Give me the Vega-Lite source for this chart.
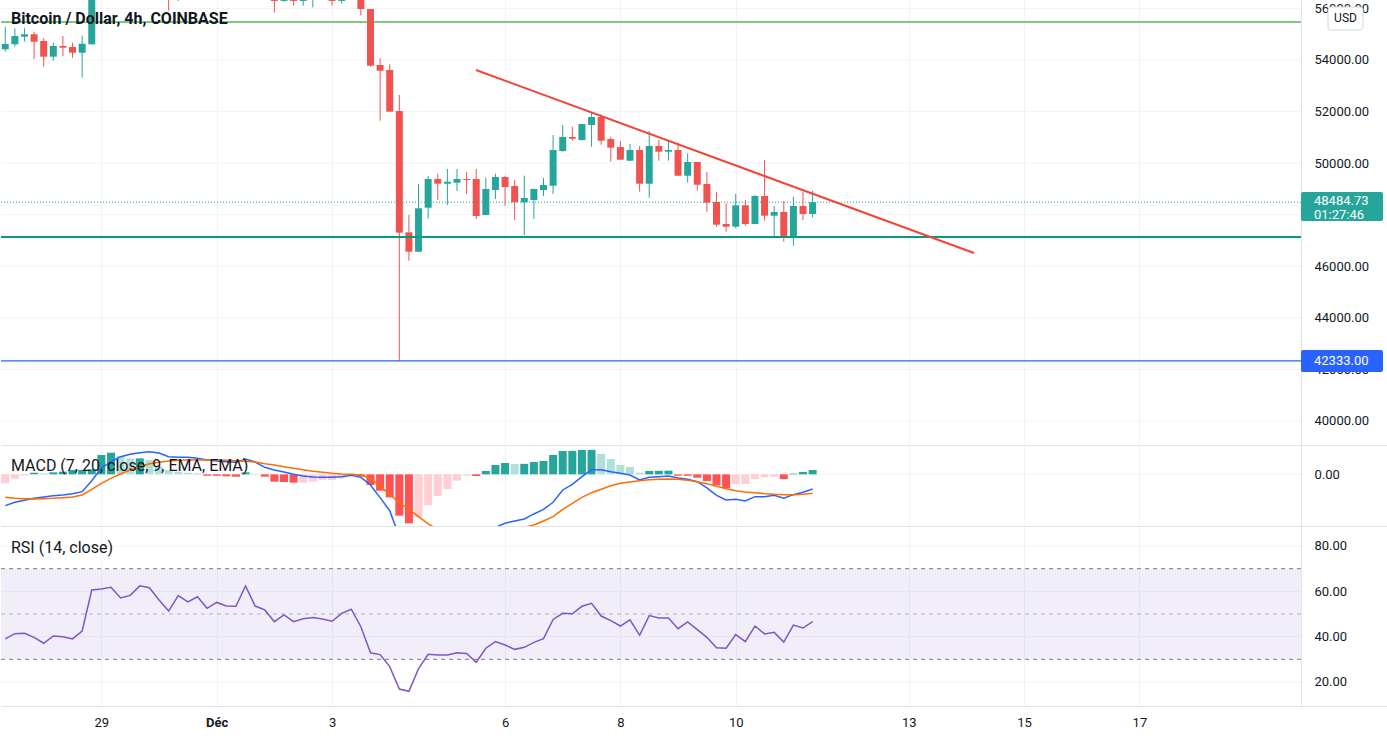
{
"$schema": "https://vega.github.io/schema/vega-lite/v6.json",
"padding": 0,
"background": "white",
"spacing": 0,
"bounds": "flush",
"config": {"view": {"stroke": null}, "font": "Roboto", "text": {"font": "Roboto"}, "axis": {"labelFont": "Roboto"}},
"datasets": {
"k": [
{"t":"2021-11-27T08:00:00Z","o":54414,"h":55291,"l":54321,"c":54620,"hist":-180,"macd":-627,"sig":-460,"rsi":39.0},
{"t":"2021-11-27T12:00:00Z","o":54608,"h":55229,"l":54515,"c":54930,"hist":-87,"macd":-560,"sig":-480,"rsi":41.3},
{"t":"2021-11-27T16:00:00Z","o":54903,"h":55229,"l":54709,"c":54996,"hist":-27,"macd":-520,"sig":-487,"rsi":41.5},
{"t":"2021-11-27T20:00:00Z","o":54996,"h":55097,"l":54038,"c":54709,"hist":33,"macd":-480,"sig":-493,"rsi":39.7},
{"t":"2021-11-28T00:00:00Z","o":54736,"h":54841,"l":53739,"c":54127,"hist":20,"macd":-453,"sig":-487,"rsi":37.1},
{"t":"2021-11-28T04:00:00Z","o":54127,"h":54670,"l":53972,"c":54542,"hist":40,"macd":-427,"sig":-480,"rsi":40.3},
{"t":"2021-11-28T08:00:00Z","o":54542,"h":54930,"l":54154,"c":54476,"hist":53,"macd":-413,"sig":-467,"rsi":40.0},
{"t":"2021-11-28T12:00:00Z","o":54503,"h":54670,"l":54088,"c":54282,"hist":87,"macd":-387,"sig":-453,"rsi":39.0},
{"t":"2021-11-28T16:00:00Z","o":54282,"h":54942,"l":53313,"c":54631,"hist":90,"macd":-347,"sig":-413,"rsi":42.5},
{"t":"2021-11-28T20:00:00Z","o":54608,"h":57500,"l":54600,"c":57300,"hist":100,"macd":-127,"sig":-300,"rsi":60.6},
{"t":"2021-11-29T00:00:00Z","o":57300,"h":58100,"l":57000,"c":57800,"hist":387,"macd":127,"sig":-180,"rsi":61.0},
{"t":"2021-11-29T04:00:00Z","o":57800,"h":58000,"l":57200,"c":57600,"hist":433,"macd":253,"sig":-80,"rsi":61.8},
{"t":"2021-11-29T08:00:00Z","o":57600,"h":58400,"l":57400,"c":58100,"hist":367,"macd":353,"sig":7,"rsi":57.1},
{"t":"2021-11-29T12:00:00Z","o":58100,"h":58800,"l":57700,"c":57900,"hist":317,"macd":400,"sig":87,"rsi":58.2},
{"t":"2021-11-29T16:00:00Z","o":57900,"h":58200,"l":57100,"c":57500,"hist":320,"macd":433,"sig":153,"rsi":62.4},
{"t":"2021-11-29T20:00:00Z","o":57500,"h":58000,"l":57200,"c":57700,"hist":287,"macd":453,"sig":213,"rsi":61.6},
{"t":"2021-11-30T00:00:00Z","o":57700,"h":57900,"l":56700,"c":57000,"hist":153,"macd":427,"sig":240,"rsi":56.2},
{"t":"2021-11-30T04:00:00Z","o":57000,"h":57300,"l":55911,"c":56800,"hist":87,"macd":353,"sig":267,"rsi":51.3},
{"t":"2021-11-30T08:00:00Z","o":56800,"h":57800,"l":56290,"c":57600,"hist":53,"macd":340,"sig":280,"rsi":58.1},
{"t":"2021-11-30T12:00:00Z","o":57600,"h":59000,"l":57500,"c":58700,"hist":33,"macd":340,"sig":287,"rsi":55.3},
{"t":"2021-11-30T16:00:00Z","o":58700,"h":59200,"l":57800,"c":58300,"hist":20,"macd":320,"sig":287,"rsi":57.6},
{"t":"2021-11-30T20:00:00Z","o":58300,"h":58500,"l":56800,"c":57000,"hist":-27,"macd":287,"sig":287,"rsi":52.5},
{"t":"2021-12-01T00:00:00Z","o":57000,"h":58600,"l":56800,"c":58200,"hist":-30,"macd":267,"sig":287,"rsi":55.1},
{"t":"2021-12-01T04:00:00Z","o":58200,"h":59100,"l":58000,"c":58900,"hist":-40,"macd":253,"sig":280,"rsi":53.5},
{"t":"2021-12-01T08:00:00Z","o":58900,"h":59000,"l":57500,"c":57800,"hist":-47,"macd":240,"sig":273,"rsi":53.4},
{"t":"2021-12-01T12:00:00Z","o":57800,"h":58000,"l":57000,"c":57400,"hist":40,"macd":307,"sig":260,"rsi":62.4},
{"t":"2021-12-01T16:00:00Z","o":57400,"h":57600,"l":56700,"c":57000,"hist":13,"macd":247,"sig":247,"rsi":53.5},
{"t":"2021-12-01T20:00:00Z","o":57000,"h":57400,"l":56600,"c":57200,"hist":-47,"macd":140,"sig":213,"rsi":51.8},
{"t":"2021-12-02T00:00:00Z","o":57200,"h":57300,"l":55833,"c":56290,"hist":-147,"macd":87,"sig":187,"rsi":46.6},
{"t":"2021-12-02T04:00:00Z","o":56290,"h":57100,"l":56260,"c":56900,"hist":-153,"macd":47,"sig":153,"rsi":49.6},
{"t":"2021-12-02T08:00:00Z","o":56900,"h":57000,"l":56105,"c":56290,"hist":-167,"macd":0,"sig":120,"rsi":46.6},
{"t":"2021-12-02T12:00:00Z","o":56290,"h":56900,"l":56105,"c":56700,"hist":-167,"macd":-33,"sig":93,"rsi":47.9},
{"t":"2021-12-02T16:00:00Z","o":56700,"h":57200,"l":56043,"c":57000,"hist":-147,"macd":-53,"sig":60,"rsi":48.5},
{"t":"2021-12-02T20:00:00Z","o":57000,"h":57200,"l":56400,"c":56600,"hist":-113,"macd":-60,"sig":40,"rsi":47.8},
{"t":"2021-12-03T00:00:00Z","o":56600,"h":56800,"l":56105,"c":56290,"hist":-113,"macd":-60,"sig":20,"rsi":46.8},
{"t":"2021-12-03T04:00:00Z","o":56290,"h":57300,"l":56200,"c":57000,"hist":-80,"macd":-47,"sig":7,"rsi":50.3},
{"t":"2021-12-03T08:00:00Z","o":57000,"h":57600,"l":56500,"c":56900,"hist":-33,"macd":-20,"sig":0,"rsi":52.1},
{"t":"2021-12-03T12:00:00Z","o":56900,"h":57100,"l":55717,"c":55977,"hist":-47,"macd":-60,"sig":-13,"rsi":44.4},
{"t":"2021-12-03T16:00:00Z","o":55977,"h":55977,"l":53739,"c":53778,"hist":-213,"macd":-213,"sig":-80,"rsi":32.9},
{"t":"2021-12-03T20:00:00Z","o":53805,"h":54065,"l":51645,"c":53584,"hist":-327,"macd":-467,"sig":-240,"rsi":32.1},
{"t":"2021-12-04T00:00:00Z","o":53611,"h":53832,"l":51994,"c":51994,"hist":-460,"macd":-727,"sig":-400,"rsi":26.8},
{"t":"2021-12-04T04:00:00Z","o":52021,"h":52642,"l":42333,"c":47302,"hist":-827,"macd":-1247,"sig":-567,"rsi":16.9},
{"t":"2021-12-04T08:00:00Z","o":47317,"h":47988,"l":46216,"c":46565,"hist":-980,"macd":-1580,"sig":-700,"rsi":15.9},
{"t":"2021-12-04T12:00:00Z","o":46565,"h":49190,"l":46565,"c":48248,"hist":-860,"macd":-1713,"sig":-847,"rsi":25.9},
{"t":"2021-12-04T16:00:00Z","o":48271,"h":49501,"l":47845,"c":49384,"hist":-613,"macd":-1747,"sig":-993,"rsi":32.2},
{"t":"2021-12-04T20:00:00Z","o":49384,"h":49590,"l":48570,"c":49202,"hist":-433,"macd":-1713,"sig":-1100,"rsi":31.9},
{"t":"2021-12-05T00:00:00Z","o":49202,"h":49772,"l":48376,"c":49279,"hist":-293,"macd":-1647,"sig":-1193,"rsi":31.9},
{"t":"2021-12-05T04:00:00Z","o":49241,"h":49772,"l":48919,"c":49384,"hist":-127,"macd":-1513,"sig":-1260,"rsi":32.9},
{"t":"2021-12-05T08:00:00Z","o":49384,"h":49656,"l":48803,"c":49346,"hist":-27,"macd":-1380,"sig":-1300,"rsi":32.6},
{"t":"2021-12-05T12:00:00Z","o":49384,"h":49772,"l":47833,"c":47950,"hist":-33,"macd":-1313,"sig":-1313,"rsi":28.7},
{"t":"2021-12-05T16:00:00Z","o":47988,"h":49435,"l":47988,"c":48997,"hist":67,"macd":-1180,"sig":-1300,"rsi":34.9},
{"t":"2021-12-05T20:00:00Z","o":48958,"h":49590,"l":48609,"c":49462,"hist":187,"macd":-1060,"sig":-1247,"rsi":37.8},
{"t":"2021-12-06T00:00:00Z","o":49462,"h":49512,"l":48349,"c":49074,"hist":227,"macd":-980,"sig":-1180,"rsi":36.3},
{"t":"2021-12-06T04:00:00Z","o":49113,"h":49346,"l":47794,"c":48481,"hist":207,"macd":-933,"sig":-1113,"rsi":34.4},
{"t":"2021-12-06T08:00:00Z","o":48481,"h":49512,"l":47213,"c":48648,"hist":210,"macd":-893,"sig":-1060,"rsi":35.3},
{"t":"2021-12-06T12:00:00Z","o":48570,"h":48997,"l":47833,"c":48997,"hist":247,"macd":-793,"sig":-1013,"rsi":37.5},
{"t":"2021-12-06T16:00:00Z","o":48958,"h":49435,"l":48725,"c":49152,"hist":267,"macd":-700,"sig":-933,"rsi":39.1},
{"t":"2021-12-06T20:00:00Z","o":49125,"h":51091,"l":48803,"c":50509,"hist":387,"macd":-560,"sig":-847,"rsi":47.6},
{"t":"2021-12-07T00:00:00Z","o":50470,"h":51479,"l":50443,"c":51013,"hist":467,"macd":-313,"sig":-700,"rsi":50.3},
{"t":"2021-12-07T04:00:00Z","o":51013,"h":51413,"l":50870,"c":50947,"hist":470,"macd":-200,"sig":-580,"rsi":50.1},
{"t":"2021-12-07T08:00:00Z","o":50897,"h":51517,"l":50870,"c":51517,"hist":487,"macd":-47,"sig":-460,"rsi":53.4},
{"t":"2021-12-07T12:00:00Z","o":51479,"h":51983,"l":50637,"c":51789,"hist":490,"macd":93,"sig":-367,"rsi":54.7},
{"t":"2021-12-07T16:00:00Z","o":51789,"h":51893,"l":50715,"c":50870,"hist":407,"macd":93,"sig":-300,"rsi":49.1},
{"t":"2021-12-07T20:00:00Z","o":50936,"h":51025,"l":50055,"c":50598,"hist":307,"macd":53,"sig":-227,"rsi":47.1},
{"t":"2021-12-08T00:00:00Z","o":50625,"h":50858,"l":50133,"c":50133,"hist":187,"macd":20,"sig":-180,"rsi":44.7},
{"t":"2021-12-08T04:00:00Z","o":50094,"h":50742,"l":50071,"c":50509,"hist":147,"macd":-13,"sig":-153,"rsi":47.4},
{"t":"2021-12-08T08:00:00Z","o":50509,"h":50664,"l":48892,"c":49202,"hist":33,"macd":-113,"sig":-127,"rsi":40.6},
{"t":"2021-12-08T12:00:00Z","o":49202,"h":51246,"l":48659,"c":50664,"hist":67,"macd":-60,"sig":-107,"rsi":49.3},
{"t":"2021-12-08T16:00:00Z","o":50664,"h":50897,"l":50094,"c":50443,"hist":70,"macd":-47,"sig":-100,"rsi":48.2},
{"t":"2021-12-08T20:00:00Z","o":50443,"h":50897,"l":50094,"c":50509,"hist":73,"macd":-33,"sig":-93,"rsi":48.2},
{"t":"2021-12-09T00:00:00Z","o":50509,"h":50792,"l":49512,"c":49512,"hist":-27,"macd":-73,"sig":-100,"rsi":43.5},
{"t":"2021-12-09T04:00:00Z","o":49512,"h":50381,"l":49241,"c":50044,"hist":-30,"macd":-100,"sig":-120,"rsi":46.5},
{"t":"2021-12-09T08:00:00Z","o":50044,"h":50044,"l":48931,"c":49163,"hist":-67,"macd":-147,"sig":-147,"rsi":43.1},
{"t":"2021-12-09T12:00:00Z","o":49190,"h":49656,"l":48116,"c":48465,"hist":-133,"macd":-273,"sig":-187,"rsi":39.7},
{"t":"2021-12-09T16:00:00Z","o":48492,"h":48880,"l":47535,"c":47612,"hist":-220,"macd":-420,"sig":-240,"rsi":35.1},
{"t":"2021-12-09T20:00:00Z","o":47639,"h":48442,"l":47341,"c":47535,"hist":-280,"macd":-513,"sig":-287,"rsi":34.9},
{"t":"2021-12-10T00:00:00Z","o":47535,"h":48803,"l":47472,"c":48364,"hist":-193,"macd":-500,"sig":-327,"rsi":40.9},
{"t":"2021-12-10T04:00:00Z","o":48364,"h":48570,"l":47573,"c":47639,"hist":-193,"macd":-533,"sig":-353,"rsi":37.8},
{"t":"2021-12-10T08:00:00Z","o":47639,"h":48764,"l":47639,"c":48725,"hist":-93,"macd":-447,"sig":-367,"rsi":44.7},
{"t":"2021-12-10T12:00:00Z","o":48725,"h":50121,"l":47767,"c":47961,"hist":-60,"macd":-447,"sig":-387,"rsi":41.2},
{"t":"2021-12-10T16:00:00Z","o":47961,"h":48337,"l":47147,"c":48105,"hist":-47,"macd":-420,"sig":-400,"rsi":41.9},
{"t":"2021-12-10T20:00:00Z","o":48105,"h":48531,"l":46953,"c":47135,"hist":-93,"macd":-480,"sig":-407,"rsi":37.6},
{"t":"2021-12-11T00:00:00Z","o":47135,"h":48698,"l":46798,"c":48337,"hist":13,"macd":-407,"sig":-407,"rsi":45.1},
{"t":"2021-12-11T04:00:00Z","o":48337,"h":48892,"l":47794,"c":48027,"hist":47,"macd":-360,"sig":-400,"rsi":43.8},
{"t":"2021-12-11T08:00:00Z","o":48027,"h":48931,"l":47899,"c":48484.73,"hist":87,"macd":-293,"sig":-380,"rsi":46.6}
]
},
"vconcat": [
{
"width": 1387, "height": 445,
"data": {"name": "k"},
"layer": [
{"data": {"values": [{"v":40000},{"v":42000},{"v":44000},{"v":46000},{"v":48000},{"v":50000},{"v":52000},{"v":54000},{"v":56000}]},
 "mark": {"type": "rule", "color": "#f0f3fa", "strokeWidth": 1},
 "encoding": {
  "x": {"datum": {"year":2021,"month":11,"date":27,"hours":6,"minutes":14,"utc":true}, "type": "temporal", "scale": {"type": "utc", "padding": 0, "domain": [{"year":2021,"month":11,"date":27,"hours":6,"minutes":14,"utc":true},{"year":2021,"month":12,"date":21,"hours":7,"minutes":27,"utc":true}]}},
  "x2": {"datum": {"year":2021,"month":12,"date":19,"hours":19,"minutes":14,"utc":true}},
  "y": {"field": "v", "type": "quantitative", "scale": {"domain": [39069, 56326], "zero": false, "nice": false},
   "axis": {"orient": "right", "offset": -87, "values": [40000,42000,44000,46000,48000,50000,52000,54000,56000], "format": ".2f", "labelFontSize": 13, "labelColor": "#131722", "labelPadding": 13, "ticks": false, "domain": true, "domainColor": "#e0e3eb", "grid": false, "title": null, "labelFlush": false, "labelOverlap": false}}
 }},
{"data": {"values": [{}]},
 "mark": {"type": "rule", "color": "#81c784", "strokeWidth": 2},
 "encoding": {
  "x": {"datum": {"year":2021,"month":11,"date":27,"hours":6,"minutes":14,"utc":true}, "type": "temporal", "scale": {"type": "utc", "padding": 0, "domain": [{"year":2021,"month":11,"date":27,"hours":6,"minutes":14,"utc":true},{"year":2021,"month":12,"date":21,"hours":7,"minutes":27,"utc":true}]}},
  "x2": {"datum": {"year":2021,"month":12,"date":19,"hours":19,"minutes":14,"utc":true}},
  "y": {"datum": 55470, "type": "quantitative", "scale": {"domain": [39069, 56326], "zero": false, "nice": false}}
 }},
{"mark": {"type": "rule", "strokeWidth": 1, "clip": true},
 "encoding": {
  "x": {"field": "t", "type": "temporal", "scale": {"type": "utc", "padding": 0, "domain": [{"year":2021,"month":11,"date":27,"hours":6,"minutes":14,"utc":true},{"year":2021,"month":12,"date":21,"hours":7,"minutes":27,"utc":true}]},
   "axis": {"values": [{"year":2021,"month":11,"date":29,"utc":true},{"year":2021,"month":12,"date":1,"utc":true},{"year":2021,"month":12,"date":3,"utc":true},{"year":2021,"month":12,"date":6,"utc":true},{"year":2021,"month":12,"date":8,"utc":true},{"year":2021,"month":12,"date":10,"utc":true},{"year":2021,"month":12,"date":13,"utc":true},{"year":2021,"month":12,"date":15,"utc":true},{"year":2021,"month":12,"date":17,"utc":true}], "labels": false, "ticks": false, "domain": true, "domainColor": "#e0e3eb", "grid": true, "gridColor": "#f0f3fa", "title": null}},
  "y": {"field": "l", "type": "quantitative", "scale": {"domain": [39069, 56326], "zero": false, "nice": false}},
  "y2": {"field": "h"},
  "color": {"condition": {"test": "datum.c >= datum.o", "value": "#26a69a"}, "value": "#ef5350"}
 }},
{"mark": {"type": "bar", "size": 7, "clip": true},
 "encoding": {
  "x": {"field": "t", "type": "temporal", "scale": {"type": "utc", "padding": 0, "domain": [{"year":2021,"month":11,"date":27,"hours":6,"minutes":14,"utc":true},{"year":2021,"month":12,"date":21,"hours":7,"minutes":27,"utc":true}]}},
  "y": {"field": "o", "type": "quantitative", "scale": {"domain": [39069, 56326], "zero": false, "nice": false}},
  "y2": {"field": "c"},
  "color": {"condition": {"test": "datum.c >= datum.o", "value": "#26a69a"}, "value": "#ef5350"}
 }},
{"data": {"values": [{}]},
 "mark": {"type": "rule", "color": "#089981", "strokeWidth": 2},
 "encoding": {
  "x": {"datum": {"year":2021,"month":11,"date":27,"hours":6,"minutes":14,"utc":true}, "type": "temporal", "scale": {"type": "utc", "padding": 0, "domain": [{"year":2021,"month":11,"date":27,"hours":6,"minutes":14,"utc":true},{"year":2021,"month":12,"date":21,"hours":7,"minutes":27,"utc":true}]}},
  "x2": {"datum": {"year":2021,"month":12,"date":19,"hours":19,"minutes":14,"utc":true}},
  "y": {"datum": 47135, "type": "quantitative", "scale": {"domain": [39069, 56326], "zero": false, "nice": false}}
 }},
{"data": {"values": [{}]},
 "mark": {"type": "rule", "color": "#2962ff", "strokeWidth": 1.3},
 "encoding": {
  "x": {"datum": {"year":2021,"month":11,"date":27,"hours":6,"minutes":14,"utc":true}, "type": "temporal", "scale": {"type": "utc", "padding": 0, "domain": [{"year":2021,"month":11,"date":27,"hours":6,"minutes":14,"utc":true},{"year":2021,"month":12,"date":21,"hours":7,"minutes":27,"utc":true}]}},
  "x2": {"datum": {"year":2021,"month":12,"date":19,"hours":19,"minutes":14,"utc":true}},
  "y": {"datum": 42333, "type": "quantitative", "scale": {"domain": [39069, 56326], "zero": false, "nice": false}}
 }},
{"data": {"values": [{}]},
 "mark": {"type": "rule", "color": "#26a69a", "strokeWidth": 1, "strokeDash": [1, 2]},
 "encoding": {
  "x": {"datum": {"year":2021,"month":11,"date":27,"hours":6,"minutes":14,"utc":true}, "type": "temporal", "scale": {"type": "utc", "padding": 0, "domain": [{"year":2021,"month":11,"date":27,"hours":6,"minutes":14,"utc":true},{"year":2021,"month":12,"date":21,"hours":7,"minutes":27,"utc":true}]}},
  "x2": {"datum": {"year":2021,"month":12,"date":19,"hours":19,"minutes":14,"utc":true}},
  "y": {"datum": 48484.73, "type": "quantitative", "scale": {"domain": [39069, 56326], "zero": false, "nice": false}}
 }},
{"data": {"values": [{"tt": "2021-12-05T11:55:00Z", "p": 53611}, {"tt": "2021-12-14T03:09:00Z", "p": 46515}]},
 "mark": {"type": "line", "color": "#f44336", "strokeWidth": 2},
 "encoding": {
  "x": {"field": "tt", "type": "temporal", "scale": {"type": "utc", "padding": 0, "domain": [{"year":2021,"month":11,"date":27,"hours":6,"minutes":14,"utc":true},{"year":2021,"month":12,"date":21,"hours":7,"minutes":27,"utc":true}]}},
  "y": {"field": "p", "type": "quantitative", "scale": {"domain": [39069, 56326], "zero": false, "nice": false}}
 }},
{"data": {"values": [{}]},
 "mark": {"type": "rect", "color": "#26a69a", "cornerRadius": 2},
 "encoding": {
  "x": {"datum": {"year":2021,"month":12,"date":19,"hours":19,"minutes":14,"utc":true}, "type": "temporal", "scale": {"type": "utc", "padding": 0, "domain": [{"year":2021,"month":11,"date":27,"hours":6,"minutes":14,"utc":true},{"year":2021,"month":12,"date":21,"hours":7,"minutes":27,"utc":true}]}},
  "x2": {"datum": {"year":2021,"month":12,"date":21,"hours":5,"minutes":22,"utc":true}},
  "y": {"datum": 48880, "type": "quantitative", "scale": {"domain": [39069, 56326], "zero": false, "nice": false}},
  "y2": {"datum": 47756}
 }},
{"data": {"values": [{}]},
 "mark": {"type": "rect", "color": "#2962ff", "cornerRadius": 2},
 "encoding": {
  "x": {"datum": {"year":2021,"month":12,"date":19,"hours":19,"minutes":14,"utc":true}, "type": "temporal", "scale": {"type": "utc", "padding": 0, "domain": [{"year":2021,"month":11,"date":27,"hours":6,"minutes":14,"utc":true},{"year":2021,"month":12,"date":21,"hours":7,"minutes":27,"utc":true}]}},
  "x2": {"datum": {"year":2021,"month":12,"date":21,"hours":5,"minutes":22,"utc":true}},
  "y": {"datum": 42753, "type": "quantitative", "scale": {"domain": [39069, 56326], "zero": false, "nice": false}},
  "y2": {"datum": 41900}
 }},
{"data": {"values": [{}]},
 "mark": {"type": "rect", "fill": "#ffffff", "stroke": "#d1d4dc", "strokeWidth": 1, "cornerRadius": 3},
 "encoding": {
  "x": {"datum": {"year":2021,"month":12,"date":20,"hours":6,"minutes":29,"utc":true}, "type": "temporal", "scale": {"type": "utc", "padding": 0, "domain": [{"year":2021,"month":11,"date":27,"hours":6,"minutes":14,"utc":true},{"year":2021,"month":12,"date":21,"hours":7,"minutes":27,"utc":true}]}},
  "x2": {"datum": {"year":2021,"month":12,"date":20,"hours":21,"minutes":3,"utc":true}},
  "y": {"datum": 56055, "type": "quantitative", "scale": {"domain": [39069, 56326], "zero": false, "nice": false}},
  "y2": {"datum": 55163}
 }},
{"data": {"values": [{"txt": "48484.73", "p": 48531}, {"txt": "01:27:46", "p": 47969}, {"txt": "42333.00", "p": 42333}]},
 "mark": {"type": "text", "align": "left", "baseline": "middle", "fontSize": 13, "color": "#ffffff"},
 "encoding": {
  "x": {"datum": {"year":2021,"month":12,"date":20,"hours":0,"minutes":39,"utc":true}, "type": "temporal", "scale": {"type": "utc", "padding": 0, "domain": [{"year":2021,"month":11,"date":27,"hours":6,"minutes":14,"utc":true},{"year":2021,"month":12,"date":21,"hours":7,"minutes":27,"utc":true}]}},
  "y": {"field": "p", "type": "quantitative", "scale": {"domain": [39069, 56326], "zero": false, "nice": false}},
  "text": {"field": "txt"}
 }},
{"data": {"values": [{}]},
 "mark": {"type": "text", "align": "center", "baseline": "middle", "fontSize": 12, "color": "#131722", "text": "USD"},
 "encoding": {
  "x": {"datum": {"year":2021,"month":12,"date":20,"hours":13,"minutes":46,"utc":true}, "type": "temporal", "scale": {"type": "utc", "padding": 0, "domain": [{"year":2021,"month":11,"date":27,"hours":6,"minutes":14,"utc":true},{"year":2021,"month":12,"date":21,"hours":7,"minutes":27,"utc":true}]}},
  "y": {"datum": 55609, "type": "quantitative", "scale": {"domain": [39069, 56326], "zero": false, "nice": false}}
 }},
{"data": {"values": [{}]},
 "mark": {"type": "text", "align": "left", "baseline": "middle", "fontSize": 16, "fontWeight": "bold", "color": "#131722", "text": "Bitcoin / Dollar, 4h, COINBASE"},
 "encoding": {
  "x": {"datum": {"year":2021,"month":11,"date":27,"hours":10,"minutes":24,"utc":true}, "type": "temporal", "scale": {"type": "utc", "padding": 0, "domain": [{"year":2021,"month":11,"date":27,"hours":6,"minutes":14,"utc":true},{"year":2021,"month":12,"date":21,"hours":7,"minutes":27,"utc":true}]}},
  "y": {"datum": 55589, "type": "quantitative", "scale": {"domain": [39069, 56326], "zero": false, "nice": false}}
 }}
]
},
{
"width": 1387, "height": 81,
"data": {"name": "k"},
"layer": [
{"data": {"values": [{}]},
 "mark": {"type": "rule", "color": "#f0f3fa", "strokeWidth": 1},
 "encoding": {
  "x": {"datum": {"year":2021,"month":11,"date":27,"hours":6,"minutes":14,"utc":true}, "type": "temporal", "scale": {"type": "utc", "padding": 0, "domain": [{"year":2021,"month":11,"date":27,"hours":6,"minutes":14,"utc":true},{"year":2021,"month":12,"date":21,"hours":7,"minutes":27,"utc":true}]}},
  "x2": {"datum": {"year":2021,"month":12,"date":19,"hours":19,"minutes":14,"utc":true}},
  "y": {"datum": 0, "type": "quantitative", "scale": {"domain": [-1034, 587], "zero": false, "nice": false},
   "axis": {"orient": "right", "offset": -87, "values": [0], "format": ".2f", "labelFontSize": 13, "labelColor": "#131722", "labelPadding": 13, "ticks": false, "domain": true, "domainColor": "#e0e3eb", "grid": false, "title": null, "labelFlush": false, "labelOverlap": false}}
 }},
{"transform": [{"window": [{"op": "lag", "field": "hist", "as": "prev"}], "sort": [{"field": "t"}]}],
 "mark": {"type": "bar", "size": 8, "clip": true},
 "encoding": {
  "x": {"field": "t", "type": "temporal", "scale": {"type": "utc", "padding": 0, "domain": [{"year":2021,"month":11,"date":27,"hours":6,"minutes":14,"utc":true},{"year":2021,"month":12,"date":21,"hours":7,"minutes":27,"utc":true}]},
   "axis": {"values": [{"year":2021,"month":11,"date":29,"utc":true},{"year":2021,"month":12,"date":1,"utc":true},{"year":2021,"month":12,"date":3,"utc":true},{"year":2021,"month":12,"date":6,"utc":true},{"year":2021,"month":12,"date":8,"utc":true},{"year":2021,"month":12,"date":10,"utc":true},{"year":2021,"month":12,"date":13,"utc":true},{"year":2021,"month":12,"date":15,"utc":true},{"year":2021,"month":12,"date":17,"utc":true}], "labels": false, "ticks": false, "domain": true, "domainColor": "#e0e3eb", "grid": true, "gridColor": "#f0f3fa", "title": null}},
  "y": {"field": "hist", "type": "quantitative", "stack": null, "scale": {"domain": [-1034, 587], "zero": false, "nice": false}},
  "y2": {"datum": 0},
  "color": {"condition": [
    {"test": "datum.hist >= 0 && datum.prev != null && datum.hist > datum.prev", "value": "#26a69a"},
    {"test": "datum.hist >= 0", "value": "#b2dfdb"},
    {"test": "datum.prev != null && datum.hist < datum.prev", "value": "#ff5252"}
   ], "value": "#ffcdd2"}
 }},
{"mark": {"type": "line", "color": "#2962ff", "strokeWidth": 1.5, "clip": true},
 "encoding": {
  "x": {"field": "t", "type": "temporal", "scale": {"type": "utc", "padding": 0, "domain": [{"year":2021,"month":11,"date":27,"hours":6,"minutes":14,"utc":true},{"year":2021,"month":12,"date":21,"hours":7,"minutes":27,"utc":true}]}},
  "y": {"field": "macd", "type": "quantitative", "scale": {"domain": [-1034, 587], "zero": false, "nice": false}}
 }},
{"mark": {"type": "line", "color": "#ff6d00", "strokeWidth": 1.5, "clip": true},
 "encoding": {
  "x": {"field": "t", "type": "temporal", "scale": {"type": "utc", "padding": 0, "domain": [{"year":2021,"month":11,"date":27,"hours":6,"minutes":14,"utc":true},{"year":2021,"month":12,"date":21,"hours":7,"minutes":27,"utc":true}]}},
  "y": {"field": "sig", "type": "quantitative", "scale": {"domain": [-1034, 587], "zero": false, "nice": false}}
 }},
{"data": {"values": [{}]},
 "mark": {"type": "text", "align": "left", "baseline": "middle", "fontSize": 16, "color": "#131722", "text": "MACD (7, 20, close, 9, EMA, EMA)"},
 "encoding": {
  "x": {"datum": {"year":2021,"month":11,"date":27,"hours":10,"minutes":24,"utc":true}, "type": "temporal", "scale": {"type": "utc", "padding": 0, "domain": [{"year":2021,"month":11,"date":27,"hours":6,"minutes":14,"utc":true},{"year":2021,"month":12,"date":21,"hours":7,"minutes":27,"utc":true}]}},
  "y": {"datum": 166, "type": "quantitative", "scale": {"domain": [-1034, 587], "zero": false, "nice": false}}
 }}
]
},
{
"width": 1387, "height": 180,
"data": {"name": "k"},
"layer": [
{"data": {"values": [{"v":20},{"v":40},{"v":60},{"v":80}]},
 "mark": {"type": "rule", "color": "#f0f3fa", "strokeWidth": 1},
 "encoding": {
  "x": {"datum": {"year":2021,"month":11,"date":27,"hours":6,"minutes":14,"utc":true}, "type": "temporal", "scale": {"type": "utc", "padding": 0, "domain": [{"year":2021,"month":11,"date":27,"hours":6,"minutes":14,"utc":true},{"year":2021,"month":12,"date":21,"hours":7,"minutes":27,"utc":true}]}},
  "x2": {"datum": {"year":2021,"month":12,"date":19,"hours":19,"minutes":14,"utc":true}},
  "y": {"field": "v", "type": "quantitative", "scale": {"domain": [9.41, 88.82], "zero": false, "nice": false},
   "axis": {"orient": "right", "offset": -87, "values": [20, 40, 60, 80], "format": ".2f", "labelFontSize": 13, "labelColor": "#131722", "labelPadding": 13, "ticks": false, "domain": true, "domainColor": "#e0e3eb", "grid": false, "title": null, "labelFlush": false, "labelOverlap": false}}
 }},
{"data": {"values": [{}]},
 "mark": {"type": "rect", "color": "#7e57c2", "opacity": 0.1},
 "encoding": {
  "x": {"datum": {"year":2021,"month":11,"date":27,"hours":6,"minutes":14,"utc":true}, "type": "temporal", "scale": {"type": "utc", "padding": 0, "domain": [{"year":2021,"month":11,"date":27,"hours":6,"minutes":14,"utc":true},{"year":2021,"month":12,"date":21,"hours":7,"minutes":27,"utc":true}]}},
  "x2": {"datum": {"year":2021,"month":12,"date":19,"hours":19,"minutes":14,"utc":true}},
  "y": {"datum": 70, "type": "quantitative", "scale": {"domain": [9.41, 88.82], "zero": false, "nice": false}},
  "y2": {"datum": 30}
 }},
{"data": {"values": [{"v": 70}, {"v": 30}]},
 "mark": {"type": "rule", "color": "#787b86", "strokeWidth": 1, "strokeDash": [4, 4]},
 "encoding": {
  "x": {"datum": {"year":2021,"month":11,"date":27,"hours":6,"minutes":14,"utc":true}, "type": "temporal", "scale": {"type": "utc", "padding": 0, "domain": [{"year":2021,"month":11,"date":27,"hours":6,"minutes":14,"utc":true},{"year":2021,"month":12,"date":21,"hours":7,"minutes":27,"utc":true}]}},
  "x2": {"datum": {"year":2021,"month":12,"date":19,"hours":19,"minutes":14,"utc":true}},
  "y": {"field": "v", "type": "quantitative", "scale": {"domain": [9.41, 88.82], "zero": false, "nice": false}}
 }},
{"data": {"values": [{"v": 50}]},
 "mark": {"type": "rule", "color": "#787b86", "opacity": 0.5, "strokeWidth": 1, "strokeDash": [4, 4]},
 "encoding": {
  "x": {"datum": {"year":2021,"month":11,"date":27,"hours":6,"minutes":14,"utc":true}, "type": "temporal", "scale": {"type": "utc", "padding": 0, "domain": [{"year":2021,"month":11,"date":27,"hours":6,"minutes":14,"utc":true},{"year":2021,"month":12,"date":21,"hours":7,"minutes":27,"utc":true}]}},
  "x2": {"datum": {"year":2021,"month":12,"date":19,"hours":19,"minutes":14,"utc":true}},
  "y": {"field": "v", "type": "quantitative", "scale": {"domain": [9.41, 88.82], "zero": false, "nice": false}}
 }},
{"mark": {"type": "line", "color": "#7e57c2", "strokeWidth": 1.5, "clip": true},
 "encoding": {
  "x": {"field": "t", "type": "temporal", "scale": {"type": "utc", "padding": 0, "domain": [{"year":2021,"month":11,"date":27,"hours":6,"minutes":14,"utc":true},{"year":2021,"month":12,"date":21,"hours":7,"minutes":27,"utc":true}]},
   "axis": {"values": [{"year":2021,"month":11,"date":29,"utc":true},{"year":2021,"month":12,"date":1,"utc":true},{"year":2021,"month":12,"date":3,"utc":true},{"year":2021,"month":12,"date":6,"utc":true},{"year":2021,"month":12,"date":8,"utc":true},{"year":2021,"month":12,"date":10,"utc":true},{"year":2021,"month":12,"date":13,"utc":true},{"year":2021,"month":12,"date":15,"utc":true},{"year":2021,"month":12,"date":17,"utc":true}],
    "labelExpr": "utcdate(datum.value) == 1 ? 'Déc' : '' + utcdate(datum.value)",
    "labelFontWeight": {"condition": {"test": "utcdate(datum.value) == 1", "value": "bold"}, "value": "normal"},
    "labelFontSize": 13, "labelColor": "#131722", "labelPadding": 10, "labelFlush": false, "labelOverlap": false,
    "ticks": false, "domain": true, "domainColor": "#e0e3eb", "grid": true, "gridColor": "#f0f3fa", "title": null}},
  "y": {"field": "rsi", "type": "quantitative", "scale": {"domain": [9.41, 88.82], "zero": false, "nice": false}}
 }},
{"data": {"values": [{}]},
 "mark": {"type": "text", "align": "left", "baseline": "middle", "fontSize": 16, "color": "#131722", "text": "RSI (14, close)"},
 "encoding": {
  "x": {"datum": {"year":2021,"month":11,"date":27,"hours":10,"minutes":24,"utc":true}, "type": "temporal", "scale": {"type": "utc", "padding": 0, "domain": [{"year":2021,"month":11,"date":27,"hours":6,"minutes":14,"utc":true},{"year":2021,"month":12,"date":21,"hours":7,"minutes":27,"utc":true}]}},
  "y": {"datum": 79.1, "type": "quantitative", "scale": {"domain": [9.41, 88.82], "zero": false, "nice": false}}
 }}
]
}
]
}
